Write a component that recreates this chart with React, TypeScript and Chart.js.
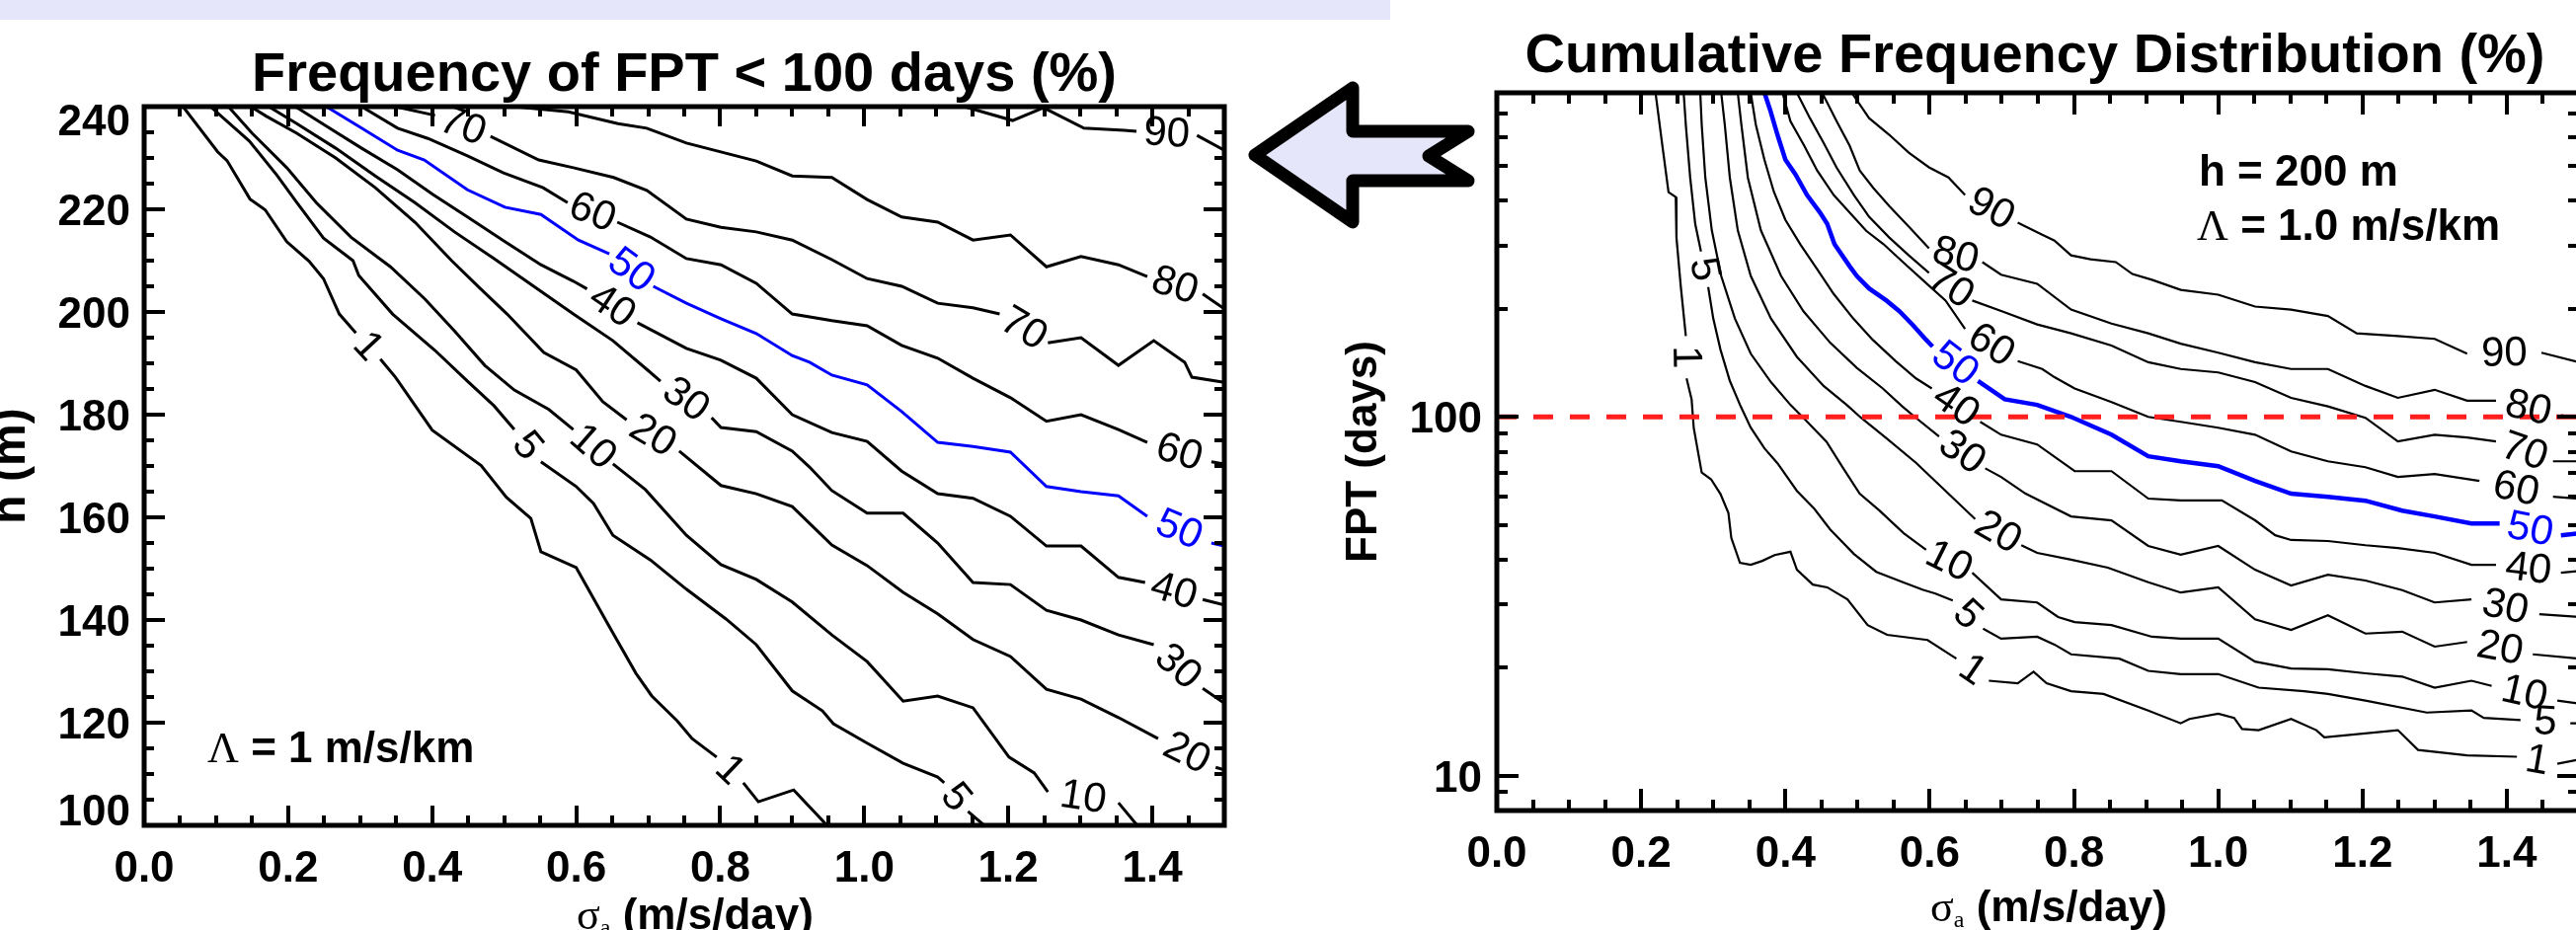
import React, { useEffect, useRef } from "react";
import { Chart, registerables } from "chart.js";

Chart.register(...registerables);

type Pt = [number, number] | null;

// ---------- axis ticks ----------
const SIGMA_MAJOR = [0, 0.2, 0.4, 0.6, 0.8, 1.0, 1.2, 1.4];
const SIGMA_MINOR_STEP = 0.05;
const SIGMA_MAX = 1.5;
const H_MAJOR = [100, 120, 140, 160, 180, 200, 220, 240];
const H_MINOR_STEP = 5;
const FPT_MAJOR = [10, 100];
const FPT_MINOR = [8, 9, 20, 30, 40, 50, 60, 70, 80, 90, 200, 300, 400, 500, 600, 700, 800];
const FPT_THRESHOLD = 100;
const LEVELS = ["1", "5", "10", "20", "30", "40", "50", "60", "70", "80", "90"];

// ---------- left panel: frequency of FPT < 100 days (x = sigma_a, y = h) ----------
const L_C1: Pt[] = [[0.054,240],[0.102,231.2],[0.115,229.5],[0.147,222.0],[0.168,219.9],[0.198,213.7],[0.229,209.9],[0.249,206.5],[0.271,199.6],[0.294,195.9],null,[0.328,190.8],[0.349,187.3],[0.400,177.0],[0.468,170.1],[0.503,163.9],[0.537,159.8],[0.551,153.3],[0.600,150.2],[0.646,138.7],[0.683,129.6],[0.705,125.2],[0.740,120.4],[0.761,116.9],[0.795,113.3],null,[0.832,108.3],[0.853,104.6],[0.902,106.9],[0.955,99]];
const L_C5: Pt[] = [[0.092,240],[0.146,233.3],[0.184,226.7],[0.212,221.3],[0.249,214.4],[0.290,210],[0.298,207.1],[0.345,199.6],[0.404,192.5],[0.449,186.5],[0.486,181.7],[0.514,177.1],null,[0.551,170.8],[0.600,166],[0.624,162.7],[0.651,156.5],[0.703,151.7],[0.753,146],[0.808,140.2],[0.850,135.2],[0.900,126.2],[0.942,122.3],[0.957,119.8],[1.004,116],[1.054,112.1],[1.102,109.4],[1.111,108.3],null,[1.144,102.7],[1.175,99]];
const L_C10: Pt[] = [[0.117,240],[0.150,234.8],[0.198,228.1],[0.239,221.3],[0.287,214.6],[0.342,208.8],[0.390,202.5],[0.431,196.3],[0.473,189.6],[0.514,184.8],[0.562,181],[0.596,177.1],null,[0.651,170.4],[0.696,165.4],[0.753,156.5],[0.801,150.8],[0.850,147.9],[0.900,143.5],[0.955,137.1],[1.004,131.9],[1.054,124.2],[1.102,125.2],[1.151,122.9],[1.201,113.3],[1.236,110.2],[1.255,106.5],null,[1.353,104.4],[1.385,99]];
const L_C20: Pt[] = [[0.148,240],[0.170,238.1],[0.212,234.8],[0.266,230],[0.321,224.2],[0.376,217.5],[0.427,210],[0.468,204.4],[0.504,199.6],[0.555,192.1],[0.600,188.7],[0.637,182.5],[0.670,179],null,[0.743,172.9],[0.801,166.2],[0.850,164.6],[0.900,162.1],[0.955,154.6],[1.004,150.6],[1.054,145.4],[1.102,141.2],[1.151,136.2],[1.203,132.9],[1.253,126.5],[1.301,124.6],[1.353,121],[1.408,116.9],null,[1.488,111.3],[1.5,110.8]];
const L_C30: Pt[] = [[0.173,240],[0.212,236.7],[0.266,231.9],[0.321,226.5],[0.376,221.3],[0.431,215.6],[0.486,210.4],[0.541,205],[0.596,199.6],[0.651,194.4],[0.699,188.7],[0.717,186.5],null,[0.788,179.4],[0.801,177.5],[0.850,176.7],[0.900,172.9],[0.924,169.8],[0.955,165.2],[1.004,160.8],[1.054,160.8],[1.102,155],[1.151,147.3],[1.203,146.9],[1.253,141.9],[1.301,140],[1.353,137.1],[1.402,135.2],null,[1.470,126.7],[1.5,123.8]];
const L_C40: Pt[] = [[0.210,240],[0.253,236.2],[0.302,231.9],[0.352,227.7],[0.401,222.9],[0.449,218.5],[0.501,213.7],[0.551,209.2],[0.596,206],[0.615,204.5],null,[0.685,197.9],[0.753,192.9],[0.801,190.6],[0.850,187.1],[0.900,180],[0.955,176.5],[1.004,174.8],[1.052,169],[1.102,164.6],[1.151,163.7],[1.203,160.2],[1.253,154.4],[1.301,154.4],[1.353,148.3],[1.390,147.3],null,[1.470,144],[1.5,142.9]];
const L_C50: Pt[] = [[0.253,240],[0.302,235.8],[0.352,231.5],[0.389,229.6],[0.449,223.8],[0.501,220.4],[0.551,219],[0.603,214],[0.646,211.3],null,[0.707,205],[0.753,201.7],[0.801,198.7],[0.850,195.8],[0.900,191.5],[0.924,190.2],[0.955,187.7],[1.004,185.8],[1.052,180.6],[1.102,174.6],[1.151,173.8],[1.203,172.7],[1.253,166],[1.301,165],[1.353,164.2],[1.393,160.2],null,[1.482,155],[1.5,154.4]];
const L_C60: Pt[] = [[0.302,240],[0.352,235.8],[0.394,233.8],[0.449,230.4],[0.499,227.1],[0.554,224.2],[0.588,221.3],null,[0.657,217.5],[0.703,214.6],[0.753,210.4],[0.801,209.2],[0.850,205.6],[0.900,199.6],[0.955,198.3],[1.004,197.3],[1.052,193.5],[1.102,191],[1.151,187.1],[1.203,183.3],[1.253,178.7],[1.301,180],[1.353,177.1],[1.393,174.6],null,[1.482,170.8],[1.5,170.4]];
const L_C70: Pt[] = [[0.349,240],[0.404,238.3],null,[0.481,234.2],[0.548,229.6],[0.596,228.1],[0.652,226.2],[0.698,223.7],[0.753,218.1],[0.801,216.5],[0.850,215.6],[0.900,214],[0.955,210.2],[1.004,206.5],[1.052,205],[1.102,201.7],[1.151,200.8],[1.188,199.6],null,[1.255,194],[1.301,195],[1.353,189.6],[1.402,194.4],[1.445,190.2],[1.455,187.3],[1.5,186.3]];
const L_C80: Pt[] = [[0.514,240],[0.589,239],[0.658,236.7],[0.698,235.8],[0.753,232.9],[0.850,229.4],[0.900,226.5],[0.955,226.2],[1.004,221.9],[1.052,218.5],[1.102,217.5],[1.151,214],[1.203,215],[1.253,208.8],[1.301,210.8],[1.353,209.2],[1.393,206.9],null,[1.470,203.5],[1.5,200.6]];
const L_C90: Pt[] = [[1.139,240],[1.206,237.3],[1.249,239.8],[1.305,235.8],[1.361,235.4],[1.378,235.2],null,[1.462,234.4],[1.5,231.5]];

// ---------- right panel: cumulative frequency distribution (x = sigma_a, y = FPT days) ----------
const R_C1: Pt[] = [[0.220,800],[0.229,580],[0.238,423],[0.248,410],[0.249,316],[0.255,231],[0.262,168],null,[0.263,128],[0.270,112],[0.273,93],[0.284,70],[0.297,67],[0.310,61],[0.321,54],[0.325,46],[0.337,39.2],[0.352,38.7],[0.368,39.7],[0.385,41.2],[0.407,42.1],[0.416,37.5],[0.438,34.1],[0.458,33.5],[0.486,31.0],[0.514,26.3],[0.541,24.7],[0.597,23.9],[0.637,21.2],null,[0.682,18.4],[0.722,18.1],[0.744,19.5],[0.762,18.1],[0.796,17.2],[0.841,16.9],[0.903,15.2],[0.948,14.0],[0.960,14.4],[1.0,14.9],[1.022,14.5],[1.033,13.5],[1.056,13.4],[1.101,14.4],[1.136,13.4],[1.147,12.8],[1.249,13.4],[1.277,11.8],[1.345,11.4],[1.414,11.3],null,[1.470,10.8],[1.5,11.1]];
const R_C5: Pt[] = [[0.259,800],[0.262,650],[0.268,465],[0.275,345],[0.283,289],null,[0.293,230],[0.300,188],[0.310,154],[0.323,126],[0.338,107],[0.352,93.3],[0.371,81.7],[0.389,74.3],[0.416,62.2],[0.440,55.5],[0.462,48.6],[0.495,41.5],[0.526,37.0],[0.563,34.6],[0.590,33.0],[0.608,32.2],[0.632,30.8],null,[0.674,25.7],[0.699,24.1],[0.749,24.4],[0.773,23.2],[0.796,21.8],[0.863,21.2],[0.903,19.6],[0.948,19.2],[1.0,19.2],[1.056,17.6],[1.119,17.2],[1.152,16.9],[1.204,16.2],[1.289,15.0],[1.351,15.2],[1.368,14.5],[1.419,14.3],null,[1.488,14.0],[1.5,14.0]];
const R_C10: Pt[] = [[0.282,800],[0.284,652],[0.289,464],[0.298,331],[0.311,247],[0.330,188],[0.352,150],[0.380,125],[0.407,108],[0.425,99.4],[0.457,85.3],[0.480,72],[0.503,61.1],[0.530,54.9],[0.564,47.4],[0.595,42.6],null,[0.659,36.8],[0.699,31.0],[0.749,30.4],[0.778,27.7],[0.801,26.8],[0.852,26.3],[0.908,24.4],[0.948,24.1],[1.0,24.1],[1.051,20.8],[1.101,19.9],[1.152,19.8],[1.204,19.3],[1.255,18.9],[1.300,17.6],[1.351,18.4],[1.379,17.8],null,[1.470,16.2],[1.5,15.9]];
const R_C20: Pt[] = [[0.311,800],[0.316,652],[0.323,464],[0.334,331],[0.352,247],[0.380,188],[0.416,147],[0.453,122],[0.485,108],[0.505,99.4],[0.540,87.2],[0.581,74.5],[0.622,62.2],[0.663,51.9],null,[0.727,43.9],[0.749,41.8],[0.796,40.0],[0.847,38.0],[0.903,34.6],[0.948,32.4],[1.0,33.5],[1.051,27.3],[1.101,25.5],[1.152,28.0],[1.204,24.9],[1.255,25.2],[1.300,22.9],[1.345,23.6],null,[1.436,21.8],[1.5,21.2]];
const R_C30: Pt[] = [[0.334,800],[0.339,652],[0.348,464],[0.366,331],[0.394,247],[0.425,197],[0.462,161],[0.499,137],[0.535,120],[0.562,107],[0.581,99.4],[0.613,88.2],null,[0.677,71.9],[0.699,68.0],[0.733,61.1],[0.796,52.8],[0.852,51.5],[0.903,43.7],[0.948,41.3],[1.0,43.7],[1.051,37.5],[1.101,33.9],[1.152,36.3],[1.204,35.0],[1.255,32.9],[1.300,30.4],[1.351,31.0],null,[1.445,28.2],[1.5,27.7]];
const R_C40: Pt[] = [[0.352,800],[0.359,652],[0.371,520],[0.384,424],[0.400,354],[0.421,302],[0.444,258],[0.467,220],[0.494,188],[0.521,164],[0.553,143],[0.581,128],[0.603,120],null,[0.670,96.9],[0.699,89.2],[0.749,83.8],[0.801,70.6],[0.852,70.6],[0.903,59.2],[0.948,58.5],[1.005,58.5],[1.051,51.5],[1.079,46.8],[1.101,45.4],[1.152,45.1],[1.204,43.9],[1.249,43.1],[1.300,41.8],[1.351,38.7],[1.385,38.7],null,[1.475,36.8],[1.5,37.2]];
const R_C50: Pt[] = [[0.371,800],[0.379,715],[0.389,611],[0.400,521],[0.414,474],[0.430,415],[0.448,371],[0.458,345],[0.468,303],[0.489,263],[0.499,247],[0.516,228],[0.540,211],[0.558,197],[0.577,180],[0.595,164],[0.604,157],null,[0.667,126],[0.704,112],[0.749,108],[0.796,100],[0.852,89.2],[0.903,77.7],[0.948,75.2],[1.0,72.9],[1.051,66.3],[1.101,61.1],[1.152,59.9],[1.204,58.4],[1.255,54.8],[1.300,52.8],[1.351,50.5],[1.390,50.5],null,[1.475,46.8],[1.5,47.4]];
const R_C60: Pt[] = [[0.396,800],[0.407,667],[0.426,570],[0.444,486],[0.467,415],[0.489,371],[0.512,330],[0.536,303],[0.563,270],[0.590,241],[0.622,211],[0.649,176],null,[0.722,143],[0.756,136],[0.773,129],[0.801,120],[0.852,110],[0.903,100],[0.948,96.9],[1.0,93.3],[1.051,89.2],[1.101,80.1],[1.152,75.2],[1.204,72.4],[1.249,68.0],[1.300,69.3],[1.362,66.3],null,[1.464,59.9],[1.5,59.2]];
const R_C70: Pt[] = [[0.416,800],[0.434,680],[0.453,580],[0.471,495],[0.495,415],[0.516,361],[0.544,316],[0.571,282],[0.599,252],null,[0.659,211],[0.700,197],[0.749,181],[0.796,171],[0.852,158],[0.903,142],[0.948,136],[1.0,133],[1.051,125],[1.101,113],[1.152,107],[1.204,99.4],[1.249,85.4],[1.300,89.2],[1.345,87.6],[1.385,85.4],null,[1.464,75.2],[1.5,75.2]];
const R_C80: Pt[] = [[0.451,800],[0.471,667],[0.489,570],[0.503,486],[0.522,434],[0.544,387],[0.571,339],[0.599,295],null,[0.673,270],[0.699,249],[0.749,235],[0.796,199],[0.852,182],[0.903,171],[0.948,160],[1.0,151],[1.051,142],[1.101,136],[1.152,136],[1.204,122],[1.249,113],[1.300,119],[1.345,111],[1.385,111],null,[1.475,101],[1.5,99.4]];
const R_C90: Pt[] = [[0.492,800],[0.516,680],[0.544,611],[0.571,545],[0.599,496],[0.626,465],[0.649,415],null,[0.722,348],[0.756,322],[0.773,310],[0.796,282],[0.823,275],[0.858,270],[0.881,250],[0.908,241],[0.948,226],[1.0,219],[1.051,203],[1.101,199],[1.152,191],[1.192,171],[1.249,168],[1.300,165],[1.345,150],null,[1.448,151],[1.5,142]];

const LEFT_SERIES = [L_C1, L_C5, L_C10, L_C20, L_C30, L_C40, L_C50, L_C60, L_C70, L_C80, L_C90];
const RIGHT_SERIES = [R_C1, R_C5, R_C10, R_C20, R_C30, R_C40, R_C50, R_C60, R_C70, R_C80, R_C90];

// ---------- styling ----------
const SANS = '"Liberation Sans", Arial, Helvetica, sans-serif';
const SERIF = '"Liberation Serif", "Times New Roman", serif';
const TICK_FONT = `bold 44px ${SANS}`;
const TITLE_FONT = `bold 56px ${SANS}`;
const LABEL_FONT = `42px ${SANS}`;
const BLUE = "#0000ff";
const RED = "#ff1f1f";

type Area = { left: number; top: number; right: number; bottom: number };
type Run = { t: string; f: string; dy?: number };

function drawRuns(ctx: CanvasRenderingContext2D, runs: Run[], x: number, y: number, align: "left" | "center") {
  ctx.save();
  ctx.textBaseline = "alphabetic";
  ctx.textAlign = "left";
  ctx.fillStyle = "#000";
  let total = 0;
  const widths = runs.map((r) => {
    ctx.font = r.f;
    const w = ctx.measureText(r.t).width;
    total += w;
    return w;
  });
  let cx = align === "center" ? x - total / 2 : x;
  runs.forEach((r, i) => {
    ctx.font = r.f;
    ctx.fillText(r.t, cx, y + (r.dy || 0));
    cx += widths[i];
  });
  ctx.restore();
}

function toData(s: Pt[]) {
  return s.map((p) => (p ? { x: p[0], y: p[1] } : { x: null, y: null }));
}

function contourDatasets(series: Pt[][], width: number, blueWidth: number) {
  return series.map((s, i) => {
    const blue = LEVELS[i] === "50";
    return {
      label: LEVELS[i],
      contourLabel: LEVELS[i],
      data: toData(s),
      showLine: true,
      borderColor: blue ? BLUE : "#000",
      backgroundColor: blue ? BLUE : "#000",
      borderWidth: blue ? blueWidth : width,
      pointRadius: 0,
      tension: 0,
      spanGaps: false,
    };
  });
}

type PanelCfg = {
  yMajor: number[];
  yMinor: number[];
  xMajorLen: number;
  xMinorLen: number;
  yMajorLen: number;
  yMinorLen: number;
  yLabelGap: number;
  texts: (ctx: CanvasRenderingContext2D, a: Area) => void;
};

function panelPlugin(cfg: PanelCfg) {
  return {
    id: "panelDeco",
    afterDatasetsDraw(chart: any) {
      const ctx: CanvasRenderingContext2D = chart.ctx;
      const xs = chart.scales.x;
      const ys = chart.scales.y;
      const a = chart.chartArea;
      ctx.save();
      ctx.beginPath();
      ctx.rect(a.left, a.top, a.right - a.left, a.bottom - a.top);
      ctx.clip();
      chart.data.datasets.forEach((ds: any) => {
        if (!ds.contourLabel) return;
        const d = ds.data;
        for (let i = 1; i < d.length - 1; i++) {
          if (d[i].y !== null) continue;
          const p = d[i - 1];
          const q = d[i + 1];
          const px = xs.getPixelForValue(p.x);
          const py = ys.getPixelForValue(p.y);
          const qx = xs.getPixelForValue(q.x);
          const qy = ys.getPixelForValue(q.y);
          let ang = Math.atan2(qy - py, qx - px);
          if (ang > Math.PI / 2) ang -= Math.PI;
          if (ang < -Math.PI / 2) ang += Math.PI;
          ctx.save();
          ctx.translate((px + qx) / 2, (py + qy) / 2);
          ctx.rotate(ang);
          ctx.font = LABEL_FONT;
          ctx.fillStyle = ds.borderColor;
          ctx.textAlign = "center";
          ctx.textBaseline = "middle";
          ctx.fillText(ds.contourLabel, 0, 1);
          ctx.restore();
        }
      });
      ctx.restore();
    },
    afterDraw(chart: any) {
      const ctx: CanvasRenderingContext2D = chart.ctx;
      const xs = chart.scales.x;
      const ys = chart.scales.y;
      const a: Area = chart.chartArea;
      ctx.save();
      ctx.strokeStyle = "#000";
      ctx.lineWidth = 4;
      ctx.lineCap = "butt";
      // x ticks (bottom & top, pointing inward)
      const nX = Math.round(SIGMA_MAX / SIGMA_MINOR_STEP);
      for (let i = 0; i <= nX; i++) {
        const v = i * SIGMA_MINOR_STEP;
        const major = SIGMA_MAJOR.some((m) => Math.abs(m - v) < 1e-6);
        const len = major ? cfg.xMajorLen : cfg.xMinorLen;
        const px = Math.round(xs.getPixelForValue(v));
        ctx.beginPath();
        ctx.moveTo(px, a.bottom);
        ctx.lineTo(px, a.bottom - len);
        ctx.moveTo(px, a.top);
        ctx.lineTo(px, a.top + len);
        ctx.stroke();
      }
      // y ticks (left & right)
      const yAll = [...cfg.yMajor.map((v) => [v, 1]), ...cfg.yMinor.map((v) => [v, 0])];
      yAll.forEach(([v, major]) => {
        const len = major ? cfg.yMajorLen : cfg.yMinorLen;
        const py = Math.round(ys.getPixelForValue(v));
        ctx.beginPath();
        ctx.moveTo(a.left, py);
        ctx.lineTo(a.left + len, py);
        ctx.moveTo(a.right, py);
        ctx.lineTo(a.right - len, py);
        ctx.stroke();
      });
      // frame
      ctx.lineWidth = 5;
      ctx.strokeRect(a.left, a.top, a.right - a.left, a.bottom - a.top);
      // tick labels
      ctx.fillStyle = "#000";
      ctx.font = TICK_FONT;
      ctx.textBaseline = "alphabetic";
      ctx.textAlign = "center";
      SIGMA_MAJOR.forEach((v) => {
        ctx.fillText(v.toFixed(1), xs.getPixelForValue(v), a.bottom + 57);
      });
      ctx.textAlign = "right";
      cfg.yMajor.forEach((v) => {
        let cy = ys.getPixelForValue(v);
        cy = Math.max(a.top + 13, Math.min(a.bottom - 16, cy));
        ctx.fillText(String(v), a.left - cfg.yLabelGap, cy + 16);
      });
      ctx.restore();
      cfg.texts(ctx, a);
    },
  };
}

function makeConfig(datasets: any[], W: number, H: number, area: Area, yScale: any, plugin: any) {
  return {
    type: "scatter" as const,
    data: { datasets },
    options: {
      responsive: false,
      animation: false,
      events: [],
      layout: { autoPadding: false, padding: { top: area.top, left: 0, right: W - area.right, bottom: 0 } },
      plugins: { legend: { display: false }, tooltip: { enabled: false }, title: { display: false } },
      elements: { point: { radius: 0 }, line: { tension: 0 } },
      scales: {
        x: {
          type: "linear",
          min: 0,
          max: SIGMA_MAX,
          ticks: { display: false },
          grid: { display: false },
          border: { display: false },
          afterFit: (s: any) => {
            s.height = H - area.bottom;
          },
        },
        y: {
          ...yScale,
          ticks: { display: false },
          grid: { display: false },
          border: { display: false },
          afterFit: (s: any) => {
            s.width = area.left;
          },
        },
      },
    },
    plugins: [plugin],
  };
}

const xTitle = (cx: number, y: number, ctx: CanvasRenderingContext2D) =>
  drawRuns(
    ctx,
    [
      { t: "σ", f: `44px ${SERIF}` },
      { t: "a", f: `24px ${SERIF}`, dy: 6 },
      { t: " (m/s/day)", f: TICK_FONT },
    ],
    cx,
    y,
    "center"
  );

function rotatedTitle(ctx: CanvasRenderingContext2D, text: string, x: number, y: number, font: string) {
  ctx.save();
  ctx.translate(x, y);
  ctx.rotate(-Math.PI / 2);
  ctx.font = font;
  ctx.fillStyle = "#000";
  ctx.textAlign = "center";
  ctx.textBaseline = "alphabetic";
  ctx.fillText(text, 0, 0);
  ctx.restore();
}

export default function App() {
  const leftRef = useRef<HTMLCanvasElement>(null);
  const rightRef = useRef<HTMLCanvasElement>(null);

  useEffect(() => {
    document.body.style.margin = "0";
    const LW = 1300;
    const RW = 1320;
    const H = 942;

    const leftArea: Area = { left: 146, top: 108, right: 1240, bottom: 836 };
    const leftPlugin = panelPlugin({
      yMajor: H_MAJOR,
      yMinor: Array.from({ length: 29 }, (_, i) => 100 + i * H_MINOR_STEP).filter((v) => v % 20 !== 0),
      xMajorLen: 20,
      xMinorLen: 10,
      yMajorLen: 21,
      yMinorLen: 10,
      yLabelGap: 14,
      texts: (ctx, a) => {
        ctx.save();
        ctx.font = TITLE_FONT;
        ctx.fillStyle = "#000";
        ctx.textAlign = "center";
        ctx.textBaseline = "alphabetic";
        ctx.fillText("Frequency of FPT < 100 days (%)", (a.left + a.right) / 2, 92);
        ctx.restore();
        xTitle((a.left + a.right) / 2 + 11, 941, ctx);
        rotatedTitle(ctx, "h (m)", 25, (a.top + a.bottom) / 2, `bold 48px ${SANS}`);
        drawRuns(
          ctx,
          [
            { t: "Λ", f: `44px ${SERIF}` },
            { t: " = 1 m/s/km", f: TICK_FONT },
          ],
          210,
          772,
          "left"
        );
      },
    });
    const leftChart = new Chart(
      leftRef.current as HTMLCanvasElement,
      makeConfig(
        contourDatasets(LEFT_SERIES, 3, 3),
        LW,
        H,
        leftArea,
        { type: "linear", min: 100, max: 240 },
        leftPlugin
      ) as any
    );

    const rightArea: Area = { left: 216, top: 94, right: 1312, bottom: 821 };
    const rightPlugin = panelPlugin({
      yMajor: FPT_MAJOR,
      yMinor: FPT_MINOR,
      xMajorLen: 22,
      xMinorLen: 11,
      yMajorLen: 22,
      yMinorLen: 11,
      yLabelGap: 15,
      texts: (ctx, a) => {
        ctx.save();
        ctx.font = TITLE_FONT;
        ctx.fillStyle = "#000";
        ctx.textAlign = "center";
        ctx.textBaseline = "alphabetic";
        ctx.fillText("Cumulative Frequency Distribution (%)", 761, 73);
        ctx.restore();
        xTitle(775, 933, ctx);
        rotatedTitle(ctx, "FPT (days)", 94, (a.top + a.bottom) / 2, TICK_FONT);
        drawRuns(ctx, [{ t: "h = 200 m", f: TICK_FONT }], 927, 188, "left");
        drawRuns(
          ctx,
          [
            { t: "Λ", f: `44px ${SERIF}` },
            { t: " = 1.0 m/s/km", f: TICK_FONT },
          ],
          925,
          243,
          "left"
        );
      },
    });
    const threshold = {
      label: "threshold",
      data: [
        { x: 0, y: FPT_THRESHOLD },
        { x: SIGMA_MAX, y: FPT_THRESHOLD },
      ],
      showLine: true,
      borderColor: RED,
      backgroundColor: RED,
      borderWidth: 5,
      borderDash: [20, 17],
      pointRadius: 0,
      order: -1,
    };
    const rightChart = new Chart(
      rightRef.current as HTMLCanvasElement,
      makeConfig(
        [threshold, ...contourDatasets(RIGHT_SERIES, 2.2, 4.5)],
        RW,
        H,
        rightArea,
        { type: "logarithmic", min: 8, max: 800 },
        rightPlugin
      ) as any
    );

    return () => {
      leftChart.destroy();
      rightChart.destroy();
    };
  }, []);

  return (
    <div
      style={{
        position: "fixed",
        left: 0,
        top: 0,
        width: 2609,
        height: 942,
        overflow: "hidden",
        background: "#ffffff",
      }}
    >
      <div style={{ position: "absolute", left: 0, top: 0, width: 1408, height: 20, background: "#e6e6fa" }} />
      <canvas
        ref={leftRef}
        width={1300}
        height={942}
        style={{ position: "absolute", left: 0, top: 0, width: 1300, height: 942 }}
      />
      <canvas
        ref={rightRef}
        width={1320}
        height={942}
        style={{ position: "absolute", left: 1300, top: 0, width: 1320, height: 942 }}
      />
      <svg width={2609} height={942} style={{ position: "absolute", left: 0, top: 0, pointerEvents: "none" }}>
        <polygon
          points="1271,157 1370,89 1370,133 1487,133 1447,158 1487,183 1370,183 1370,225"
          fill="#e6e6fa"
          stroke="#000"
          strokeWidth={13}
          strokeLinejoin="round"
        />
      </svg>
    </div>
  );
}
